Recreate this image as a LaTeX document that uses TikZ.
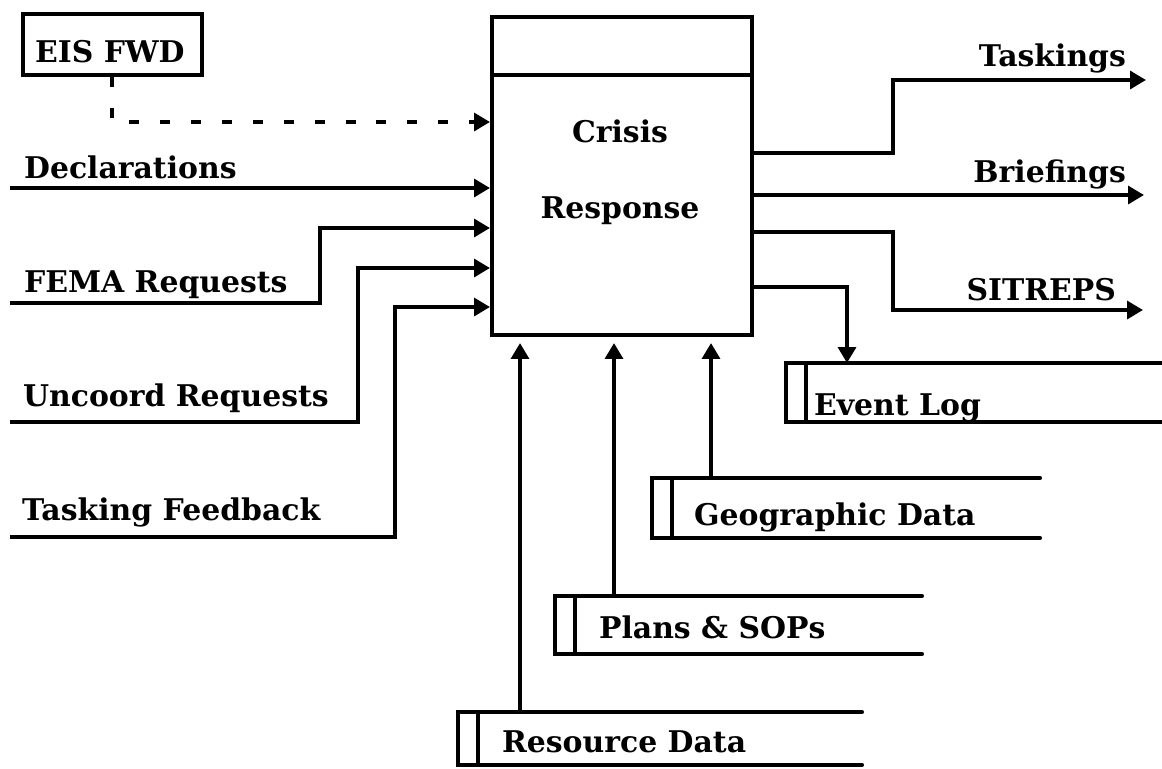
\documentclass[tikz,border=0pt]{standalone}
\usepackage{fontspec}
\setmainfont{DejaVu Serif}
\usetikzlibrary{arrows.meta}
\begin{document}
\begin{tikzpicture}[x=0.02cm, y=-0.02cm,
  line width=2.4pt,
  lbl/.style={font=\fontsize{17}{20}\selectfont\bfseries, inner sep=0pt},
  flow/.style={-{Triangle[length=9pt,width=10pt]}},
  dashflow/.style={flow, dash pattern=on 5.7pt off 11.9pt},
  storebox/.style={inner sep=0pt, outer sep=0pt, anchor=north west},
  storeline/.style={line cap=round},
  ]
\useasboundingbox (0,0) rectangle (1162,768);

% process box with its header band
\node[draw, inner sep=0pt, minimum width=5.2cm, minimum height=6.36cm, anchor=north west] (proc) at (490,15) {};
\draw (490,75) -- (750,75);
\node[lbl, anchor=base] (crisis) at (620,142) {Crisis};
\node[lbl, anchor=base] (response) at (620,218) {Response};

% external entity
\node[draw, inner sep=0pt, minimum width=3.58cm, minimum height=1.22cm, anchor=north west] (eis) at (21,12) {};
\node[lbl, anchor=base west] (eisL) at (33,62) {EIS FWD};
\coordinate (eisdrop) at (112,122);
\draw[dashflow] (eis.south -| eisdrop) -- (eisdrop) -- (eisdrop -| proc.west);

% inputs on the left
\coordinate (declIn) at (10,188);
\node[lbl, anchor=base west] (declL) at (22,178) {Declarations};
\draw[flow] (declIn) -- (declIn -| proc.west);

\coordinate (femaIn) at (10,303);
\coordinate (femaBend) at (320,228);
\node[lbl, anchor=base west] (femaL) at (22,292) {FEMA Requests};
\draw[flow] (femaIn) -- (femaIn -| femaBend) -- (femaBend) -- (femaBend -| proc.west);

\coordinate (uncIn) at (10,422);
\coordinate (uncBend) at (358,268);
\node[lbl, anchor=base west] (uncL) at (21,406) {Uncoord Requests};
\draw[flow] (uncIn) -- (uncIn -| uncBend) -- (uncBend) -- (uncBend -| proc.west);

\coordinate (tfIn) at (10,537);
\coordinate (tfBend) at (395,307);
\node[lbl, anchor=base west] (tfL) at (20,520) {Tasking Feedback};
\draw[flow] (tfIn) -- (tfIn -| tfBend) -- (tfBend) -- (tfBend -| proc.west);

% outputs on the right
\coordinate (taskOut) at (1146,80);
\coordinate (taskBend) at (893,153);
\node[lbl, anchor=base east] (taskL) at (1128,66) {Taskings};
\draw[flow] (taskBend -| proc.east) -- (taskBend) -- (taskBend |- taskOut) -- (taskOut);

\coordinate (briefOut) at (1144,195);
\node[lbl, anchor=base east] (briefL) at (1128,182) {Briefings};
\draw[flow] (briefOut -| proc.east) -- (briefOut);

\coordinate (sitBend) at (893,232);
\coordinate (sitOut) at (1143,310);
\node[lbl, anchor=base east] (sitL) at (1118,300) {SITREPS};
\draw[flow] (sitBend -| proc.east) -- (sitBend) -- (sitBend |- sitOut) -- (sitOut);

% data stores
\node[storebox, minimum width=7.52cm, minimum height=1.18cm] (evlog) at (786,363) {};
\node[storebox, minimum width=7.76cm, minimum height=1.2cm] (geo) at (652,478) {};
\node[storebox, minimum width=7.34cm, minimum height=1.16cm] (plans) at (555,596) {};
\node[storebox, minimum width=8.08cm, minimum height=1.06cm] (res) at (458,712) {};
\foreach \s in {evlog, geo, plans, res} {
  \draw[storeline] (\s.north east) -- (\s.north west) -- (\s.south west) -- (\s.south east);
  \draw ([xshift=0.4cm]\s.north west) -- ([xshift=0.4cm]\s.south west);
}
\node[lbl, anchor=base west] (evlogL) at (812,415) {Event Log};
\node[lbl, anchor=base west] (geoL) at (692,525) {Geographic Data};
\node[lbl, anchor=base west] (plansL) at (597,638) {Plans \& SOPs};
\node[lbl, anchor=base west] (resL) at (500,752) {Resource Data};

% event log write
\coordinate (logBend) at (847,287);
\draw[flow] (logBend -| proc.east) -- (logBend) -- (logBend |- evlog.north);

% data store reads
\coordinate (resTip) at (520,343);
\coordinate (plansTip) at (614,343);
\coordinate (geoTip) at (711,343);
\draw[flow] (resTip |- res.north) -- (resTip);
\draw[flow] (plansTip |- plans.north) -- (plansTip);
\draw[flow] (geoTip |- geo.north) -- (geoTip);
\end{tikzpicture}
\end{document}
